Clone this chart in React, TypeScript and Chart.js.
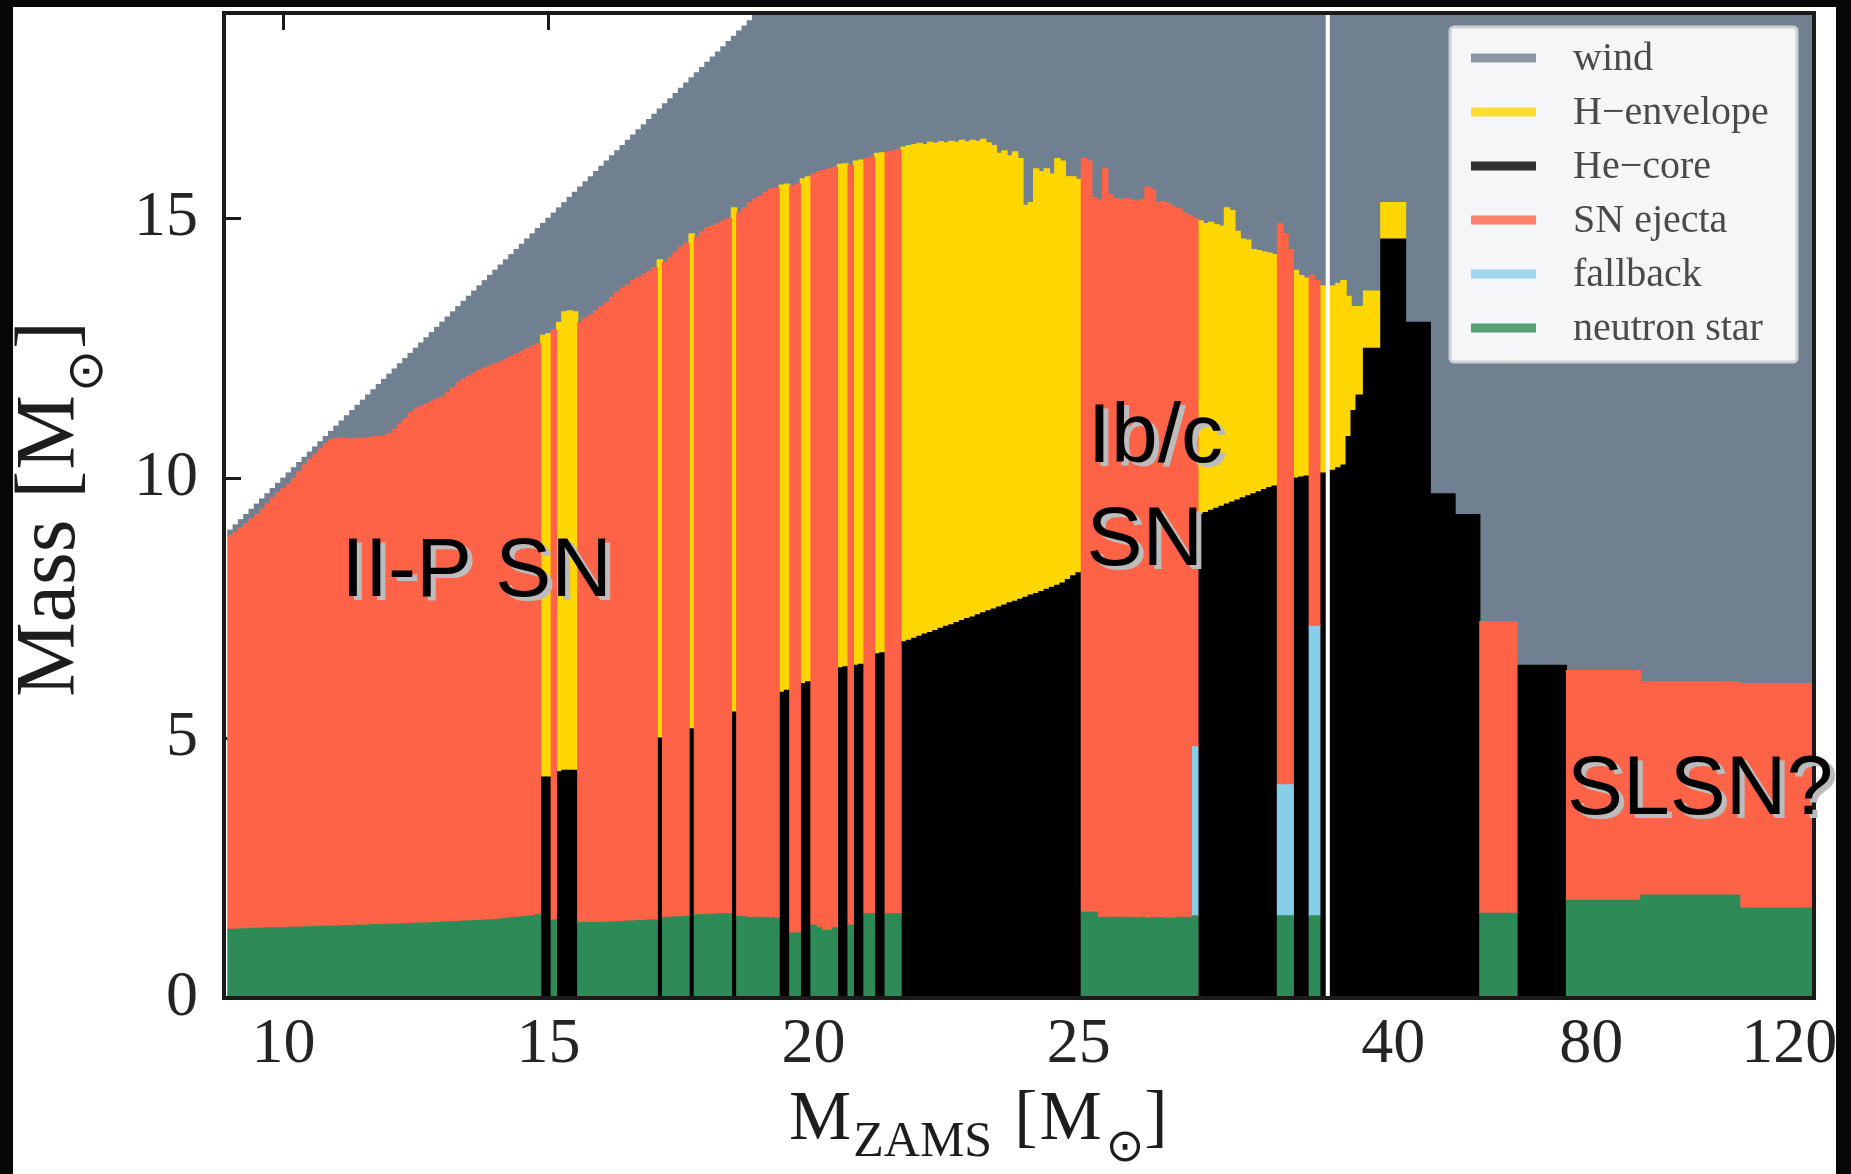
import React, { useEffect, useRef } from 'react';
import { Chart, registerables, LinearScale } from 'chart.js';

/* ------------------------------------------------------------------ */
/*  Data                              */
/* ------------------------------------------------------------------ */

// Initial (ZAMS) mass of each model, in solar masses
const mZams = [
  9.0, 9.1, 9.2, 9.3, 9.4, 9.5, 9.6, 9.7, 9.8, 9.9,
  10.0, 10.1, 10.2, 10.3, 10.4, 10.5, 10.6, 10.7, 10.8, 10.9,
  11.0, 11.1, 11.2, 11.3, 11.4, 11.5, 11.6, 11.7, 11.8, 11.9,
  12.0, 12.1, 12.2, 12.3, 12.4, 12.5, 12.6, 12.7, 12.8, 12.9,
  13.0, 13.1, 13.2, 13.3, 13.4, 13.5, 13.6, 13.7, 13.8, 13.9,
  14.0, 14.1, 14.2, 14.3, 14.4, 14.5, 14.6, 14.7, 14.8, 14.9,
  15.0, 15.1, 15.2, 15.3, 15.4, 15.5, 15.6, 15.7, 15.8, 15.9,
  16.0, 16.1, 16.2, 16.3, 16.4, 16.5, 16.6, 16.7, 16.8, 16.9,
  17.0, 17.1, 17.2, 17.3, 17.4, 17.5, 17.6, 17.7, 17.8, 17.9,
  18.0, 18.1, 18.2, 18.3, 18.4, 18.5, 18.6, 18.7, 18.8, 18.9,
  19.0, 19.1, 19.2, 19.3, 19.4, 19.5, 19.6, 19.7, 19.8, 19.9,
  20.0, 20.1, 20.2, 20.3, 20.4, 20.5, 20.6, 20.7, 20.8, 20.9,
  21.0, 21.1, 21.2, 21.3, 21.4, 21.5, 21.6, 21.7, 21.8, 21.9,
  22.0, 22.1, 22.2, 22.3, 22.4, 22.5, 22.6, 22.7, 22.8, 22.9,
  23.0, 23.1, 23.2, 23.3, 23.4, 23.5, 23.6, 23.7, 23.8, 23.9,
  24.0, 24.1, 24.2, 24.3, 24.4, 24.5, 24.6, 24.7, 24.8, 24.9,
  25.0, 25.1, 25.2, 25.3, 25.4, 25.5, 25.6, 25.7, 25.8, 25.9,
  26.0, 26.1, 26.2, 26.3, 26.4, 26.5, 26.6, 26.7, 26.8, 26.9,
  27.0, 27.1, 27.2, 27.3, 27.4, 27.5, 27.6, 27.7, 27.8, 27.9,
  28.0, 28.1, 28.2, 28.3, 28.4, 28.5, 28.6, 28.7, 28.8, 28.9,
  29.0, 29.1, 29.2, 29.3, 29.4, 29.5, 29.6, 29.7, 29.8, 29.9,
  30.0, 31, 32, 33, 35, 40, 45, 50, 55, 60, 70, 80, 100, 120,
];

// Neutron-star mass (0 when a black hole forms)
const nsMass = [
  1.32, 1.32, 1.33, 1.33, 1.34, 1.34, 1.34, 1.35, 1.35, 1.35,
  1.35, 1.36, 1.36, 1.36, 1.37, 1.37, 1.37, 1.38, 1.38, 1.38,
  1.38, 1.39, 1.39, 1.39, 1.40, 1.40, 1.40, 1.41, 1.41, 1.41,
  1.42, 1.42, 1.42, 1.43, 1.43, 1.44, 1.44, 1.44, 1.45, 1.45,
  1.46, 1.46, 1.47, 1.47, 1.48, 1.48, 1.49, 1.49, 1.50, 1.50,
  1.51, 1.52, 1.53, 1.54, 1.55, 1.56, 1.57, 1.58, 1.60, 0,
  0, 1.50, 0, 0, 0, 0, 1.45, 1.45, 1.45, 1.45,
  1.45, 1.46, 1.46, 1.47, 1.47, 1.48, 1.48, 1.49, 1.49, 1.50,
  1.50, 0, 1.55, 1.55, 1.56, 1.56, 1.57, 0, 1.60, 1.60,
  1.61, 1.61, 1.62, 1.62, 1.62, 0, 1.57, 1.56, 1.55, 1.55,
  1.55, 1.55, 1.54, 1.54, 0, 0, 1.25, 1.25, 0, 0,
  1.40, 1.35, 1.30, 1.30, 1.35, 0, 0, 1.40, 0, 0,
  1.62, 1.62, 0, 0, 1.62, 1.62, 1.62, 0, 0, 0,
  0, 0, 0, 0, 0, 0, 0, 0, 0, 0,
  0, 0, 0, 0, 0, 0, 0, 0, 0, 0,
  0, 0, 0, 0, 0, 0, 0, 0, 0, 0,
  0, 1.65, 1.65, 1.65, 1.55, 1.55, 1.55, 1.55, 1.55, 1.55,
  1.55, 1.54, 1.55, 1.53, 1.54, 1.55, 1.54, 1.53, 1.54, 1.55,
  1.55, 1.55, 1.58, 0, 0, 0, 0, 0, 0, 0,
  0, 0, 0, 0, 0, 0, 0, 0, 1.58, 1.58,
  1.58, 0, 0, 0, 1.58, 1.58, 0, null, 0, 0,
  0, 0, 0, 0, 0, 0, 0, 0, 0, 1.63, 0, 1.88, 1.98, 1.73,
];

// Fallback mass accreted onto the neutron star
const fallbackMass = [
  0, 0, 0, 0, 0, 0, 0, 0, 0, 0,
  0, 0, 0, 0, 0, 0, 0, 0, 0, 0,
  0, 0, 0, 0, 0, 0, 0, 0, 0, 0,
  0, 0, 0, 0, 0, 0, 0, 0, 0, 0,
  0, 0, 0, 0, 0, 0, 0, 0, 0, 0,
  0, 0, 0, 0, 0, 0, 0, 0, 0, 0,
  0, 0, 0, 0, 0, 0, 0, 0, 0, 0,
  0, 0, 0, 0, 0, 0, 0, 0, 0, 0,
  0, 0, 0, 0, 0, 0, 0, 0, 0, 0,
  0, 0, 0, 0, 0, 0, 0, 0, 0, 0,
  0, 0, 0, 0, 0, 0, 0, 0, 0, 0,
  0, 0, 0, 0, 0, 0, 0, 0, 0, 0,
  0, 0, 0, 0, 0, 0, 0, 0, 0, 0,
  0, 0, 0, 0, 0, 0, 0, 0, 0, 0,
  0, 0, 0, 0, 0, 0, 0, 0, 0, 0,
  0, 0, 0, 0, 0, 0, 0, 0, 0, 0,
  0, 0, 0, 0, 0, 0, 0, 0, 0, 0,
  0, 0, 0, 0, 0, 0, 0, 0, 0, 0,
  0, 0, 3.25, 0, 0, 0, 0, 0, 0, 0,
  0, 0, 0, 0, 0, 0, 0, 0, 2.52, 2.52,
  2.52, 0, 0, 0, 5.57, 5.57, 0, null, 0, 0,
  0, 0, 0, 0, 0, 0, 0, 0, 0, 0, 0, 0, 0, 0,
];

// He-core mass of models that collapse to a black hole (0 = explosion)
const heCoreMass = [
  0, 0, 0, 0, 0, 0, 0, 0, 0, 0,
  0, 0, 0, 0, 0, 0, 0, 0, 0, 0,
  0, 0, 0, 0, 0, 0, 0, 0, 0, 0,
  0, 0, 0, 0, 0, 0, 0, 0, 0, 0,
  0, 0, 0, 0, 0, 0, 0, 0, 0, 0,
  0, 0, 0, 0, 0, 0, 0, 0, 0, 4.25,
  4.25, 0, 4.35, 4.38, 4.38, 4.38, 0, 0, 0, 0,
  0, 0, 0, 0, 0, 0, 0, 0, 0, 0,
  0, 5.00, 0, 0, 0, 0, 0, 5.18, 0, 0,
  0, 0, 0, 0, 0, 5.50, 0, 0, 0, 0,
  0, 0, 0, 0, 5.88, 5.92, 0, 0, 6.05, 6.08,
  0, 0, 0, 0, 0, 6.35, 6.37, 0, 6.40, 6.42,
  0, 0, 6.62, 6.64, 0, 0, 0, 6.85, 6.88, 6.92,
  6.96, 7.00, 7.03, 7.07, 7.11, 7.15, 7.18, 7.22, 7.26, 7.30,
  7.33, 7.37, 7.41, 7.45, 7.48, 7.52, 7.56, 7.60, 7.63, 7.67,
  7.71, 7.75, 7.78, 7.82, 7.86, 7.90, 7.94, 7.98, 8.05, 8.12,
  8.18, 0, 0, 0, 0, 0, 0, 0, 0, 0,
  0, 0, 0, 0, 0, 0, 0, 0, 0, 0,
  0, 0, 0, 9.30, 9.34, 9.38, 9.42, 9.46, 9.50, 9.54,
  9.58, 9.62, 9.66, 9.70, 9.74, 9.78, 9.82, 9.85, 0, 0,
  0, 10.00, 10.02, 10.04, 0, 0, 10.10, null, 10.15, 10.20,
  10.25, 10.80, 11.30, 11.60, 12.50, 14.60, 13.00, 9.70, 9.30, 0, 6.40, 0, 0, 0,
];

// Pre-supernova (final) stellar mass: top of the ejecta / H-envelope column
const preSnMass = [
  8.90, 8.96, 9.04, 9.12, 9.22, 9.30, 9.40, 9.50, 9.62, 9.72,
  9.80, 9.88, 10.00, 10.12, 10.25, 10.36, 10.46, 10.56, 10.66, 10.74,
  10.76, 10.77, 10.76, 10.75, 10.77, 10.76, 10.78, 10.79, 10.80, 10.82,
  10.86, 10.94, 11.04, 11.14, 11.26, 11.33, 11.38, 11.43, 11.48, 11.52,
  11.56, 11.64, 11.74, 11.84, 11.90, 11.96, 12.02, 12.08, 12.12, 12.16,
  12.20, 12.24, 12.29, 12.34, 12.39, 12.44, 12.49, 12.54, 12.59, 12.75,
  12.78, 12.85, 13.00, 13.20, 13.22, 13.20, 13.00, 13.08, 13.14, 13.22,
  13.30, 13.38, 13.48, 13.58, 13.66, 13.72, 13.80, 13.86, 13.92, 13.98,
  14.05, 14.20, 14.15, 14.25, 14.35, 14.45, 14.52, 14.70, 14.64, 14.74,
  14.82, 14.86, 14.90, 14.95, 15.00, 15.20, 15.10, 15.20, 15.30, 15.37,
  15.42, 15.50, 15.56, 15.58, 15.64, 15.66, 15.62, 15.66, 15.76, 15.80,
  15.85, 15.90, 15.92, 15.95, 15.98, 16.04, 16.05, 16.02, 16.10, 16.12,
  16.15, 16.18, 16.25, 16.26, 16.28, 16.30, 16.32, 16.37, 16.40, 16.42,
  16.44, 16.42, 16.46, 16.44, 16.47, 16.45, 16.48, 16.46, 16.50, 16.47,
  16.50, 16.48, 16.52, 16.45, 16.40, 16.25, 16.30, 16.20, 16.28, 16.15,
  15.25, 15.30, 15.95, 15.90, 15.95, 15.85, 16.15, 16.10, 15.80, 15.80,
  15.75, 16.15, 16.10, 15.40, 15.35, 15.95, 15.45, 15.38, 15.36, 15.38,
  15.35, 15.33, 15.36, 15.60, 15.55, 15.30, 15.32, 15.28, 15.22, 15.18,
  15.10, 15.05, 15.00, 14.95, 14.90, 14.92, 14.88, 14.85, 15.20, 15.15,
  14.75, 14.60, 14.58, 14.40, 14.38, 14.35, 14.33, 14.30, 14.90, 14.70,
  14.40, 14.00, 13.90, 13.85, 13.90, 13.80, 13.70, null, 13.70, 13.75,
  13.80, 13.50, 13.30, 13.30, 13.60, 15.30, 13.00, 9.70, 9.30, 7.24, 6.40, 6.30, 6.08, 6.05,
];

const xTickValues = [10, 15, 20, 25, 40, 80, 120];
const yTickStep = 5;
const xLimits = [8.877, 125.0];
const yLimits = [0, 18.95];

// stacking order: bottom -> top
const seriesLabels = ['neutron star', 'fallback', 'SN ejecta', 'He\u2212core', 'H\u2212envelope', 'wind'];
const seriesColors = ['#2e8b57', '#87ceeb', '#ff6347', '#000000', '#ffd700', '#708090'];

const annotations = [
  { text: 'II-P SN', mass: 11.09, value: 7.74 },
  { text: 'Ib/c', mass: 25.17, value: 10.32 },
  { text: 'SN', mass: 25.15, value: 8.33 },
  { text: 'SLSN?', mass: 75.1, value: 3.54 },
];

/* ------------------------------------------------------------------ */
/*  Broken (two-slope) mass axis                                        */
/* ------------------------------------------------------------------ */
const BREAK_MASS = 30;
const RIGHT_COMPRESSION = 4.95 / 53;
const warp = (m: number) => (m <= BREAK_MASS ? m : BREAK_MASS + (m - BREAK_MASS) * RIGHT_COMPRESSION);
const unwarp = (u: number) => (u <= BREAK_MASS ? u : BREAK_MASS + (u - BREAK_MASS) / RIGHT_COMPRESSION);

class BrokenScale extends LinearScale {
  static id = 'broken';
  buildTicks() {
    return xTickValues.map((value) => ({ value }));
  }
  getPixelForValue(value: any) {
    if (value === null || value === undefined || isNaN(value)) return NaN;
    const a = warp(this.min);
    const b = warp(this.max);
    return this.getPixelForDecimal((warp(value) - a) / (b - a));
  }
  getValueForPixel(pixel: number) {
    const a = warp(this.min);
    const b = warp(this.max);
    return unwarp(a + this.getDecimalForPixel(pixel) * (b - a));
  }
}

Chart.register(...registerables, BrokenScale as any);

/* ------------------------------------------------------------------ */
/*  Build the stacked layers                                           */
/* ------------------------------------------------------------------ */
const clean = (v: number | null) => (v === null || !(v > 1e-6) ? null : Math.round(v * 1000) / 1000);
const isBH = (i: number) => (heCoreMass[i] || 0) > 0;
const layers = [
  nsMass.map(clean),
  fallbackMass.map(clean),
  preSnMass.map((p, i) => (p === null || isBH(i) ? null : clean(p - (nsMass[i] || 0) - (fallbackMass[i] || 0)))),
  heCoreMass.map(clean),
  preSnMass.map((p, i) => (p === null || !isBH(i) ? null : clean(p - (heCoreMass[i] || 0)))),
  preSnMass.map((p, i) => (p === null ? null : clean(mZams[i] - p))),
];

const SERIF = '"Liberation Serif", "Times New Roman", serif';
const SANS = '"Liberation Sans", Arial, sans-serif';
const INK = '#1d1d1d';

/* ------------------------------------------------------------------ */
/*  Plugins                                                             */
/* ------------------------------------------------------------------ */
const backgroundPlugin = {
  id: 'slideBackground',
  beforeDraw(chart: any) {
    const { ctx, width, height } = chart;
    ctx.save();
    ctx.fillStyle = '#070707';
    ctx.fillRect(0, 0, width, height);
    ctx.fillStyle = '#ffffff';
    ctx.fillRect(13, 7, 1836 - 13, height - 7);
    ctx.restore();
  },
};

function drawPieces(ctx: any, pieces: any[]) {
  let cx = 0;
  for (const p of pieces) {
    ctx.font = p.font;
    ctx.fillText(p.text, cx, p.dy || 0);
    cx += ctx.measureText(p.text).width + (p.gap || 0);
  }
}

const overlayPlugin = {
  id: 'overlay',
  afterDraw(chart: any) {
    const { ctx, chartArea } = chart;
    const xs = chart.scales.x;
    const ys = chart.scales.y;
    ctx.save();

    // region annotations with a soft drop shadow
    ctx.textAlign = 'left';
    ctx.textBaseline = 'alphabetic';
    ctx.font = `84px ${SANS}`;
    for (const a of annotations) {
      const px = xs.getPixelForValue(a.mass);
      const py = ys.getPixelForValue(a.value);
      ctx.fillStyle = '#bcbcbc';
      ctx.fillText(a.text, px + 5, py + 4);
      ctx.fillStyle = '#000000';
      ctx.fillText(a.text, px, py);
    }

    // legend (inside the axes, upper right)
    const L = { x: 1450, y: 27, w: 347, h: 335 };
    ctx.fillStyle = 'rgba(255,255,255,0.93)';
    ctx.strokeStyle = '#cdd1d5';
    ctx.lineWidth = 3;
    ctx.beginPath();
    if (ctx.roundRect) ctx.roundRect(L.x, L.y, L.w, L.h, 4);
    else ctx.rect(L.x, L.y, L.w, L.h);
    ctx.fill();
    ctx.stroke();
    const ds = chart.data.datasets.slice().reverse();
    ctx.textBaseline = 'middle';
    ctx.font = `40px ${SERIF}`;
    ds.forEach((d: any, k: number) => {
      const yy = 58 + k * 54;
      ctx.globalAlpha = 0.8;
      ctx.strokeStyle = d.backgroundColor;
      ctx.lineWidth = 9;
      ctx.lineCap = 'butt';
      ctx.beginPath();
      ctx.moveTo(1471, yy);
      ctx.lineTo(1536, yy);
      ctx.stroke();
      ctx.globalAlpha = 1;
      ctx.fillStyle = '#4a4a4a';
      ctx.fillText(d.label, 1573, yy + 1);
    });

    // x-axis title: M_ZAMS [M_sun]
    ctx.fillStyle = INK;
    ctx.textBaseline = 'alphabetic';
    ctx.save();
    ctx.translate(chartArea.left + 565, chartArea.bottom + 141);
    drawPieces(ctx, [
      { text: 'M', font: `70px ${SERIF}`, gap: 2 },
      { text: 'ZAMS', font: `50px ${SERIF}`, dy: 17, gap: 22 },
      { text: '[', font: `70px ${SERIF}`, gap: 2 },
      { text: 'M', font: `70px ${SERIF}`, gap: 4 },
      { text: '\u2299', font: '46px "DejaVu Sans", sans-serif', dy: 22, gap: 0 },
      { text: ']', font: `70px ${SERIF}` },
    ]);
    ctx.restore();

    // y-axis title: Mass [M_sun]
    ctx.save();
    ctx.translate(74, chartArea.top + 684);
    ctx.rotate(-Math.PI / 2);
    drawPieces(ctx, [
      { text: 'Mass', font: `84px ${SERIF}`, gap: 21 },
      { text: '[', font: `84px ${SERIF}`, gap: 1 },
      { text: 'M', font: `84px ${SERIF}`, gap: 3 },
      { text: '\u2299', font: '50px "DejaVu Sans", sans-serif', dy: 28, gap: 1 },
      { text: ']', font: `84px ${SERIF}` },
    ]);
    ctx.restore();

    ctx.restore();
  },
};

/* ------------------------------------------------------------------ */
/*  Component                                                           */
/* ------------------------------------------------------------------ */
export default function App() {
  const canvasRef = useRef<HTMLCanvasElement | null>(null);

  useEffect(() => {
    const canvas = canvasRef.current;
    if (!canvas) return;

    const spine = { display: true, color: '#1b1b1b', width: 4, z: 1 };
    // inward tick marks, drawn beneath the bars (visible only on bare background)
    const inward = {
      display: true,
      drawOnChartArea: false,
      drawTicks: true,
      tickLength: -17,
      tickWidth: 3,
      tickColor: '#1b1b1b',
      offset: false,
    };

    const chart = new Chart(canvas, {
      type: 'bar',
      data: {
        labels: mZams,
        datasets: seriesLabels.map((label, k) => ({
          label,
          data: layers[k],
          backgroundColor: seriesColors[k],
          borderWidth: 0,
        })),
      },
      options: {
        animation: false,
        responsive: false,
        devicePixelRatio: 1,
        events: [],
        layout: { padding: { top: 13, right: 1851 - 1814, bottom: 0, left: 0 } },
        datasets: {
          bar: {
            barThickness: 'flex',
            categoryPercentage: 1,
            barPercentage: 1,
            inflateAmount: 0.6,
          },
        },
        plugins: {
          legend: { display: false },
          tooltip: { enabled: false },
        },
        scales: {
          x: {
            type: 'broken',
            position: 'bottom',
            min: xLimits[0],
            max: xLimits[1],
            stacked: true,
            offset: false,
            grid: inward,
            border: spine,
            ticks: {
              autoSkip: false,
              maxRotation: 0,
              padding: 10,
              color: '#242424',
              font: { family: SERIF, size: 64, lineHeight: 1.69 },
              callback: (v: any) => String(v),
            },
            afterFit: (s: any) => {
              s.height = 176;
            },
          },
          xTop: {
            type: 'broken',
            position: 'top',
            min: xLimits[0],
            max: xLimits[1],
            offset: false,
            grid: inward,
            border: spine,
            ticks: { display: false },
            afterFit: (s: any) => {
              s.height = 0;
            },
          },
          y: {
            type: 'linear',
            position: 'left',
            min: yLimits[0],
            max: yLimits[1],
            stacked: true,
            grid: {
              display: true,
              drawOnChartArea: false,
              drawTicks: true,
              tickLength: 26,
              tickColor: 'rgba(0,0,0,0)',
            },
            border: spine,
            ticks: {
              stepSize: yTickStep,
              includeBounds: false,
              padding: 0,
              color: '#242424',
              font: { family: SERIF, size: 64, lineHeight: 0.35 },
            },
            afterFit: (s: any) => {
              s.width = 224;
            },
          },
          yInner: {
            type: 'linear',
            position: 'left',
            weight: -1,
            min: yLimits[0],
            max: yLimits[1],
            grid: inward,
            border: { display: false },
            ticks: { display: false, stepSize: yTickStep, includeBounds: false },
            afterFit: (s: any) => {
              s.width = 0;
            },
          },
          yRight: {
            type: 'linear',
            position: 'right',
            min: yLimits[0],
            max: yLimits[1],
            grid: inward,
            border: spine,
            ticks: { display: false, stepSize: yTickStep, includeBounds: false },
            afterFit: (s: any) => {
              s.width = 0;
            },
          },
        },
      } as any,
      plugins: [backgroundPlugin, overlayPlugin],
    });

    return () => {
      chart.destroy();
    };
  }, []);

  return (
    <div
      style={{
        position: 'fixed',
        left: 0,
        top: 0,
        width: 1851,
        height: 1174,
        background: '#070707',
        overflow: 'hidden',
      }}
    >
      <canvas
        ref={canvasRef}
        width={1851}
        height={1174}
        style={{ display: 'block', width: '1851px', height: '1174px' }}
      />
    </div>
  );
}
